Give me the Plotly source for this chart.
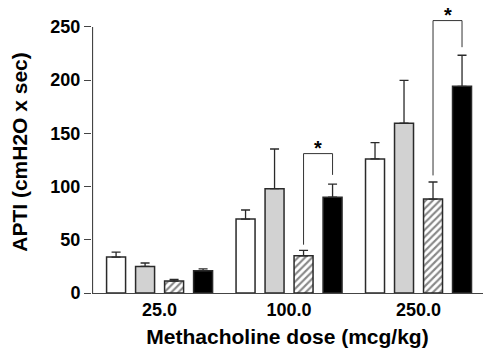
import plotly.graph_objects as go

doses = ["25.0", "100.0", "250.0"]
group_names = ["Group A", "Group B", "Group C", "Group D"]
means = [
    [33.8, 69.5, 126.0],
    [25.0, 98.0, 159.5],
    [11.3, 35.0, 88.3],
    [21.0, 90.0, 194.2],
]
errors = [
    [4.7, 8.5, 15.3],
    [3.2, 37.3, 40.4],
    [1.5, 5.0, 16.0],
    [1.6, 12.4, 29.2],
]
y_ticks = [0, 50, 100, 150, 200, 250]
# significance brackets: (dose index, left series, right series, left base, top, right base)
brackets = [
    (1, 2, 3, 45.4, 131.0, 111.0),
    (2, 2, 3, 110.5, 256.0, 231.0),
]

fills = ["white", "#d2d2d2", "white", "black"]
patterns = ["", "", "/", ""]
edge = "#2a2a2a"
font_family = "Liberation Sans, Arial, sans-serif"

x_pos = list(range(len(doses)))
fig = go.Figure()
for i in range(4):
    fig.add_trace(go.Bar(
        x=x_pos, y=means[i], name=group_names[i],
        marker=dict(color=fills[i], line=dict(color=edge, width=1.5),
                    pattern=dict(shape=patterns[i], fgcolor="#111", bgcolor="white",
                                 size=5, solidity=0.42, fillmode="overlay") if patterns[i] else None),
        error_y=dict(type="data", symmetric=False, array=errors[i],
                     arrayminus=[0] * len(doses), color=edge, thickness=1.3, width=4.5),
        showlegend=False,
    ))

bargap = 0.104
bargroupgap = 0.345
slot = (1 - bargap) / 4

def series_center(g, s):
    return g - (1 - bargap) / 2 + slot * (s + 0.5)

xmin = -0.522
shapes = []
# y axis line from 0 to 250
shapes.append(dict(type="line", xref="x", yref="y", x0=xmin + 0.004, x1=xmin + 0.004,
                   y0=0, y1=y_ticks[-1], line=dict(color="#444", width=1.2), layer="above"))
annotations = []
for g, sl, sr, lb, top, rb in brackets:
    xl = series_center(g, sl)
    xr = series_center(g, sr)
    for (a, b, c, d) in [(xl, lb, xl, top), (xl, top, xr, top), (xr, top, xr, rb)]:
        shapes.append(dict(type="line", xref="x", yref="y", x0=a, y0=b, x1=c, y1=d,
                           line=dict(color="#333", width=1)))
    annotations.append(dict(x=(xl + xr) / 2, y=top, xref="x", yref="y", text="<b>*</b>",
                            showarrow=False, yanchor="bottom", yshift=-7,
                            font=dict(size=20, family=font_family, color="black")))

fig.update_layout(
    width=483, height=348,
    margin=dict(l=92, r=0, t=11, b=55),
    paper_bgcolor="white", plot_bgcolor="white",
    barmode="group", bargap=bargap, bargroupgap=bargroupgap,
    font=dict(family=font_family, color="black"),
    shapes=shapes, annotations=annotations,
    xaxis=dict(range=[xmin, 2.498], tickmode="array", tickvals=x_pos, ticktext=doses,
               automargin=False,
               showline=True, linecolor="#444", linewidth=1.2, ticks="",
               showgrid=False, zeroline=False,
               tickfont=dict(size=18, family=font_family, color="black", weight="bold"),
               title=dict(text="<b>Methacholine dose (mcg/kg)</b>", standoff=10,
                          font=dict(size=21, family=font_family, color="black"))),
    yaxis=dict(range=[0, 265], tickmode="array", tickvals=y_ticks,
               automargin=False,
               showline=False, ticks="outside", ticklen=7, tickcolor="#444", tickwidth=1.2,
               showgrid=False, zeroline=False,
               tickfont=dict(size=18, family=font_family, color="black", weight="bold"),
               title=dict(text="<b>APTI (cmH2O x sec)</b>", standoff=17,
                          font=dict(size=21, family=font_family, color="black"))),
)

fig.write_html("out.html", config={"displayModeBar": False},
               post_script="document.body.style.margin='0';document.body.style.overflow='hidden';")
